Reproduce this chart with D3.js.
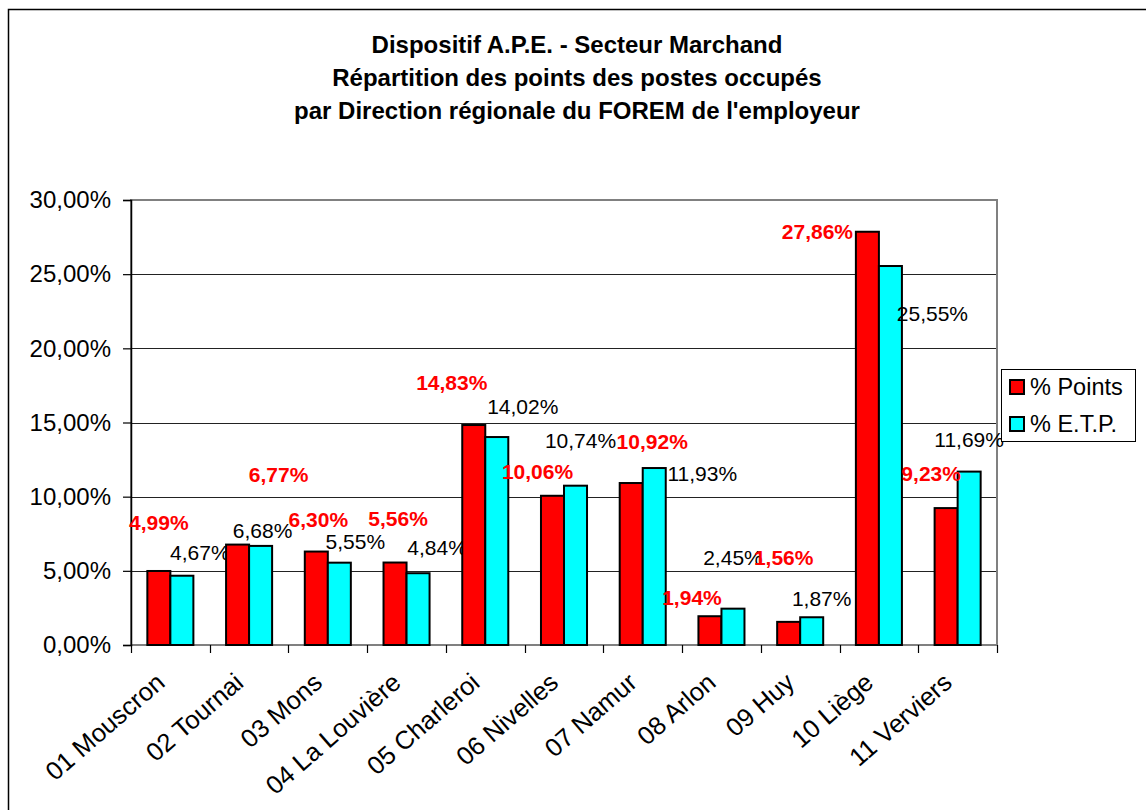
<!DOCTYPE html>
<html lang="fr">
<head>
<meta charset="UTF-8">
<title>Dispositif A.P.E. - Secteur Marchand</title>
<script src="https://d3js.org/d3.v7.min.js"></script>
<style>
    html,body{margin:0;padding:0;background:#fff;}
    svg{display:block;font-family:"Liberation Sans",Arial,sans-serif;}
</style>
</head>
<body>
<svg id="chart" width="1146" height="810"></svg>
<script>
// --- data ---
const categories = ['01 Mouscron','02 Tournai','03 Mons','04 La Louvière','05 Charleroi',
    '06 Nivelles','07 Namur','08 Arlon','09 Huy','10 Liège','11 Verviers'];
const series = ['% Points','% E.T.P.'];
const pointsPct = [4.99,6.77,6.30,5.56,14.83,10.06,10.92,1.94,1.56,27.86,9.23];
const etpPct = [4.67,6.68,5.55,4.84,14.02,10.74,11.93,2.45,1.87,25.55,11.69];
const yTicks = [0,5,10,15,20,25,30];
const titleLines = ['Dispositif A.P.E. - Secteur Marchand',
    'Répartition des points des postes occupés',
    "par Direction régionale du FOREM de l'employeur"];

// labels were hand-dragged in the original, nudge from top of bar (px)
const pointsNudge = [[0,-48],[41,-70],[2,-32],[3,-44],[-22,-42],[-15,-24],[21,-41],[-18,-19],[-5,-64],[-50,0],[-15,-34]];
const etpNudge = [[18,-23],[2,-15],[16,-21],[19,-26],[26,-30],[5,-45],[48,6],[0,-51],[10,-19],[42,48],[0,-32]];

const colors = ['#ff0000','#00ffff'];
const labelColors = ['#ff0000','#000000'];
const labelWeights = ['bold','normal'];

const svg = d3.select('#chart');
const pLeft = 131, pRight = 997, pTop = 200, pBottom = 645;

// outer chart frame (runs off the picture on the right and bottom)
svg.append('rect')
    .attr('x',8.5).attr('y',9.5)
    .attr('width',1300).attr('height',900)
    .attr('fill','none').attr('stroke','#000').attr('stroke-width',1.5);

// title
svg.append('g').selectAll('text')
    .data(titleLines)
    .join('text')
    .attr('x',577)
    .attr('y',(d,i)=>53+i*33)
    .attr('text-anchor','middle')
    .attr('font-size','24px')
    .attr('font-weight','bold')
    .text(d=>d);

const x = d3.scaleBand().domain(categories).range([pLeft,pRight]);
const x1 = d3.scaleBand().domain(series).range([0,x.bandwidth()]).paddingOuter(0.71);
const y = d3.scaleLinear().domain([0,30]).range([pBottom,pTop]);

const fmt = v => v.toFixed(2).replace('.',',')+'%';

// grid
svg.append('g').selectAll('line')
    .data(yTicks.slice(1,-1))
    .join('line')
    .attr('x1',pLeft).attr('x2',pRight)
    .attr('y1',d=>Math.round(y(d))+0.5).attr('y2',d=>Math.round(y(d))+0.5)
    .attr('stroke','#222').attr('stroke-width',1);

// plot border
svg.append('rect')
    .attr('x',pLeft).attr('y',pTop)
    .attr('width',pRight-pLeft).attr('height',pBottom-pTop)
    .attr('fill','none').attr('stroke','#808080').attr('stroke-width',2);

// y axis
const yAxis = svg.append('g')
    .attr('transform',`translate(${pLeft},0)`)
    .call(d3.axisLeft(y).tickValues(yTicks).tickSize(8).tickPadding(12).tickFormat(fmt));
yAxis.select('.domain').attr('stroke','#000').attr('stroke-width',1.5);
yAxis.selectAll('.tick line').attr('stroke','#000').attr('stroke-width',1.2);
yAxis.selectAll('text').attr('font-size','24px').attr('font-family','"Liberation Sans",Arial,sans-serif').attr('fill','#000');

// x axis: ticks between categories
svg.append('g').selectAll('line')
    .data(categories.map(c=>x(c)).concat([pRight]))
    .join('line')
    .attr('x1',d=>Math.round(d)+0.5).attr('x2',d=>Math.round(d)+0.5)
    .attr('y1',pBottom).attr('y2',pBottom+8)
    .attr('stroke','#000').attr('stroke-width',1.2);

svg.append('g').selectAll('text')
    .data(categories)
    .join('text')
    .attr('transform',d=>`translate(${x(d)+x.bandwidth()/2-4},${pBottom+40}) rotate(-41)`)
    .attr('text-anchor','end')
    .attr('font-size','25.5px')
    .text(d=>d);

// bars
const rows = categories.map((c,i)=>({cat:c, vals:[pointsPct[i],etpPct[i]], i}));
const groups = svg.append('g').selectAll('g')
    .data(rows)
    .join('g')
    .attr('transform',d=>`translate(${x(d.cat)},0)`);

groups.selectAll('rect')
    .data(d=>d.vals.map((v,k)=>({v,k})))
    .join('rect')
    .attr('x',d=>x1(series[d.k]))
    .attr('width',x1.bandwidth())
    .attr('y',d=>y(d.v))
    .attr('height',d=>y(0)-y(d.v))
    .attr('fill',d=>colors[d.k])
    .attr('stroke','#000').attr('stroke-width',2);

// data labels
const nudges = [pointsNudge,etpNudge];
groups.selectAll('text')
    .data(d=>d.vals.map((v,k)=>({v,k,i:d.i})))
    .join('text')
    .attr('x',d=>x1(series[d.k])+x1.bandwidth()/2+nudges[d.k][d.i][0])
    .attr('y',d=>y(d.v)+nudges[d.k][d.i][1])
    .attr('dy','0.35em')
    .attr('text-anchor','middle')
    .attr('font-size','21px')
    .attr('font-weight',d=>labelWeights[d.k])
    .attr('fill',d=>labelColors[d.k])
    .text(d=>fmt(d.v));

// legend
const lg = svg.append('g').attr('transform','translate(1001,369)');
lg.append('rect')
    .attr('x',0.5).attr('y',0.5).attr('width',134).attr('height',72)
    .attr('fill','#fff').attr('stroke','#000').attr('stroke-width',1);
const li = lg.selectAll('g')
    .data(series)
    .join('g')
    .attr('transform',(d,i)=>`translate(0,${18+i*37})`);
li.append('rect')
    .attr('x',9).attr('y',-7).attr('width',14).attr('height',14)
    .attr('fill',(d,i)=>colors[i])
    .attr('stroke','#000').attr('stroke-width',2);
li.append('text')
    .attr('x',29).attr('dy','0.35em')
    .attr('font-size','23.5px')
    .text(d=>d);
</script>
</body>
</html>
